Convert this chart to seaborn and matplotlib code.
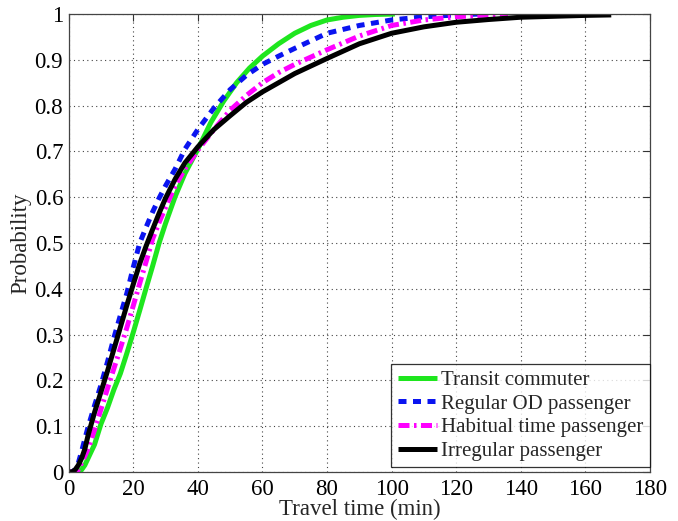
import matplotlib
matplotlib.use("Agg")
import matplotlib.pyplot as plt
import seaborn as sns
import numpy as np

# ---- data ----
transit_x = [0, 3, 4, 5, 6, 8, 10, 12, 14, 16, 18, 20, 22, 24, 26, 28, 30, 33, 36, 40, 44, 48, 52, 56, 60, 65, 70, 75, 80, 85, 90, 95, 101]
transit_p = [0, 0, 0.005, 0.015, 0.03, 0.06, 0.105, 0.14, 0.18, 0.215, 0.259, 0.305, 0.353, 0.402, 0.45, 0.5, 0.543, 0.602, 0.652, 0.705, 0.763, 0.81, 0.85, 0.882, 0.908, 0.935, 0.958, 0.975, 0.987, 0.993, 0.997, 0.999, 1.0]

regular_x = [0, 1, 2, 3, 4, 5, 6, 8, 10, 12, 14, 16, 18, 20, 22, 24, 26, 28, 30, 33, 36, 40, 45, 50, 55, 60, 65, 70, 80, 90, 100, 110, 120, 127]
regular_p = [0, 0, 0.005, 0.02, 0.045, 0.072, 0.098, 0.145, 0.19, 0.24, 0.293, 0.342, 0.39, 0.447, 0.5, 0.535, 0.568, 0.598, 0.625, 0.662, 0.705, 0.748, 0.795, 0.835, 0.866, 0.89, 0.908, 0.925, 0.958, 0.975, 0.987, 0.994, 0.998, 1.0]

habitual_x = [0, 2, 3, 4, 6, 8, 10, 12, 14, 16, 18, 20, 22, 24, 26, 28, 30, 33, 36, 40, 45, 50, 55, 60, 65, 70, 75, 80, 90, 100, 110, 120, 130, 136]
habitual_p = [0, 0, 0.005, 0.02, 0.05, 0.092, 0.137, 0.182, 0.226, 0.27, 0.315, 0.363, 0.412, 0.46, 0.509, 0.545, 0.578, 0.625, 0.662, 0.703, 0.748, 0.79, 0.822, 0.85, 0.872, 0.89, 0.906, 0.922, 0.952, 0.975, 0.987, 0.994, 0.998, 1.0]

irregular_x = [0, 1, 2, 3, 4, 5, 6, 8, 10, 12, 14, 16, 18, 20, 22, 24, 26, 28, 30, 33, 36, 40, 45, 50, 55, 60, 70, 80, 90, 100, 110, 120, 130, 140, 150, 160, 168]
irregular_p = [0, 0, 0.005, 0.015, 0.03, 0.05, 0.08, 0.13, 0.175, 0.22, 0.268, 0.316, 0.364, 0.41, 0.455, 0.494, 0.53, 0.565, 0.598, 0.64, 0.675, 0.71, 0.748, 0.778, 0.807, 0.83, 0.87, 0.903, 0.935, 0.958, 0.972, 0.982, 0.988, 0.993, 0.995, 0.997, 0.998]

labels = ["Transit commuter", "Regular OD passenger", "Habitual time passenger", "Irregular passenger"]
x_ticks = [0, 20, 40, 60, 80, 100, 120, 140, 160, 180]
y_ticks = [0, 0.1, 0.2, 0.3, 0.4, 0.5, 0.6, 0.7, 0.8, 0.9, 1]
y_tick_labels = ["0", "0.1", "0.2", "0.3", "0.4", "0.5", "0.6", "0.7", "0.8", "0.9", "1"]

sns.set_style("white")
plt.rcParams["font.family"] = ["Liberation Serif", "DejaVu Serif"]

fig = plt.figure(figsize=(6.78, 5.21), dpi=100)
ax = fig.add_axes([0.1013, 0.094, 0.8574, 0.8791])

series = [
    (transit_x, transit_p, "#1ee61e", None),
    (regular_x, regular_p, "#0a14f0", (1.6, 1.3)),
    (habitual_x, habitual_p, "#ff00ff", (2.2, 0.9, 0.5, 0.9)),
    (irregular_x, irregular_p, "#000000", None),
]
for (xs, ps, col, dash), lab in zip(series, labels):
    sns.lineplot(x=xs, y=ps, color=col, lw=3.6, ax=ax, label=lab, estimator=None)
    line = ax.lines[-1]
    if dash is not None:
        line.set_dashes(dash)
    line.set_solid_capstyle("butt")
    line.set_solid_joinstyle("round")

ax.set_xlim(0, 180)
ax.set_ylim(0, 1)
ax.set_xticks(x_ticks)
ax.set_xticklabels([str(t) for t in x_ticks])
ax.set_yticks(y_ticks)
ax.set_yticklabels(y_tick_labels)
ax.tick_params(direction="in", length=5, width=0.8, labelsize=16.5, top=True, right=True,
               colors="#333333", labelcolor="black")
ax.tick_params(axis="x", pad=5)
ax.tick_params(axis="y", pad=4)
ax.grid(True, linestyle=(0, (1, 3)), color="#444444", linewidth=0.8)
for s in ax.spines.values():
    s.set_visible(True)
    s.set_color("#444444")
    s.set_linewidth(0.9)

ax.set_xlabel("Travel time (min)", fontsize=16.5, labelpad=-1)
ax.set_ylabel("Probability", fontsize=16.5, labelpad=2)

leg = ax.legend(loc="lower right", bbox_to_anchor=(1.0, 0.01), fontsize=15, frameon=True,
                fancybox=False, handlelength=1.9, handletextpad=0.2, borderpad=0.3,
                labelspacing=0.2, borderaxespad=0.0)
leg.get_frame().set_edgecolor("black")
leg.get_frame().set_linewidth(0.9)

fig.savefig("out.png", dpi=100)
